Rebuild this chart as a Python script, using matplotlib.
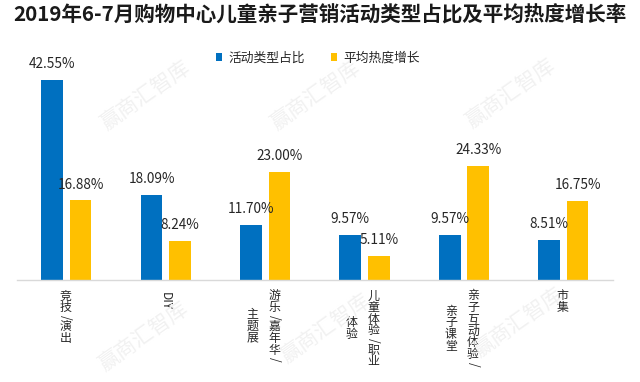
import matplotlib
matplotlib.use("Agg")
import matplotlib.pyplot as plt
from matplotlib.patches import Patch

plt.rcParams['font.family'] = ['Noto Sans CJK SC', 'DejaVu Sans']

title = "2019年6-7月购物中心儿童亲子营销活动类型占比及平均热度增长率"
categories = ["竞技/演出", "DIY", "游乐/嘉年华/主题展", "儿童体验/职业体验", "亲子互动体验/亲子课堂", "市集"]
# vertical label columns, right to left
label_columns = [
    ["竞技/演出"],
    ["DIY"],
    ["游乐/嘉年华/", "主题展"],
    ["儿童体验/职业", "体验"],
    ["亲子互动体验/", "亲子课堂"],
    ["市集"],
]
series_names = ["活动类型占比", "平均热度增长"]
share = [42.55, 18.09, 11.70, 9.57, 9.57, 8.51]
growth = [16.88, 8.24, 23.00, 5.11, 24.33, 16.75]

BLUE = "#0070C0"
YELLOW = "#FFC000"

fig = plt.figure(figsize=(6.4, 3.82), dpi=100)
W, H = 640, 382
ax = fig.add_axes([16.7 / W, 1 - 279.5 / H, 596.3 / W, 210.8 / H])
ax.set_xlim(-0.5, 5.5)
ax.set_ylim(0, 45)

x = list(range(len(categories)))
bw = 0.218
off = 0.143
b1 = ax.bar([i - off for i in x], share, width=bw, color=BLUE, zorder=2)
b2 = ax.bar([i + off for i in x], growth, width=bw, color=YELLOW, zorder=2)

for bars, vals in ((b1, share), (b2, growth)):
    for r, v in zip(bars, vals):
        ax.annotate(f"{v:.2f}%", xy=(r.get_x() + r.get_width() / 2, v),
                    xytext=(0, 6.3), textcoords='offset points',
                    ha='center', va='bottom', fontsize=9.8, color='#262626', zorder=3)

for s in ('top', 'right', 'left'):
    ax.spines[s].set_visible(False)
ax.spines['bottom'].set_color('#d9d9d9')
ax.spines['bottom'].set_linewidth(1.0)
ax.set_yticks([])
ax.set_xticks([])

# vertical stacked labels
fs = 8.6
em = fs  # points
pt_per_px = 72 / 100


def tokens(col):
    out = []
    buf = ""
    for ch in col:
        if ord(ch) < 128:
            buf += ch
        else:
            if buf:
                out.append(buf)
                buf = ""
            out.append(ch)
    if buf:
        out.append(buf)
    return out


def tok_len(t):
    if ord(t[0]) < 128:
        return 0.62 * em * len(t)
    return em * 0.98


top = 10.5 * pt_per_px
xoffs_two = [9 * pt_per_px, -13 * pt_per_px]
xoff_one = -1 * pt_per_px
xt = ax.get_xaxis_transform()
for i, cols in enumerate(label_columns):
    lens = [sum(tok_len(t) for t in tokens(c)) for c in cols]
    maxlen = max(lens)
    for j, c in enumerate(cols):
        xo = xoff_one if len(cols) == 1 else xoffs_two[j]
        y = -(top + (maxlen - lens[j]) / 2)
        for t in tokens(c):
            L = tok_len(t)
            rot = -90 if ord(t[0]) < 128 else 0
            ax.annotate(t, xy=(i, 0), xycoords=xt, xytext=(xo, y - L / 2),
                        textcoords='offset points', ha='center', va='center',
                        rotation=rot, fontsize=fs, color='#262626',
                        annotation_clip=False)
            y -= L

# title
fig.text(0.5, 1 - 15 / H, title, ha='center', va='center', fontsize=14.8,
         fontweight='bold', color='#1a1a1a')

# legend
handles = [Patch(facecolor=BLUE, edgecolor='none'), Patch(facecolor=YELLOW, edgecolor='none')]
fig.legend(handles, series_names, loc='center', bbox_to_anchor=(318 / W, 1 - 58 / H),
           ncol=2, frameon=False, fontsize=9.2, handlelength=0.5, handleheight=0.5,
           handletextpad=0.5, columnspacing=2.0, labelcolor='#262626')

# watermarks
for (wx, wy) in [(145, 95), (315, 95), (510, 93), (143, 336), (325, 328), (518, 322)]:
    fig.text(wx / W, 1 - wy / H, "赢商汇智库", rotation=35, ha='center', va='center',
             fontsize=15, color='#f1f1f1', zorder=0)

fig.savefig("out.png", dpi=100)
